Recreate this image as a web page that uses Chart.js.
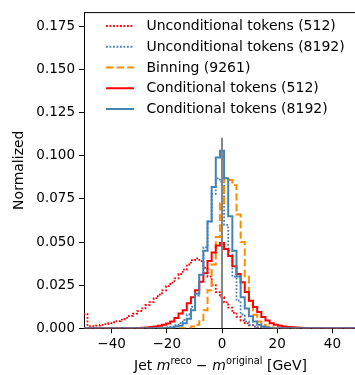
<!DOCTYPE html>
<html>
<head>
<meta charset="utf-8">
<script src="https://cdn.jsdelivr.net/npm/chart.js@4.4.1/dist/chart.umd.min.js"></script>
<style>
  html, body { margin: 0; padding: 0; background: #fff; overflow: hidden; }
  #wrap { position: relative; width: 365px; height: 375px; }
</style>
</head>
<body>
<div id="wrap"><canvas id="histChart"></canvas></div>
<script>
// histogram bins: 67 bins of 1.5 GeV, centred on 0
const binWidth = 1.5;
const binEdges = Array.from({ length: 68 }, (_, k) => -50.25 + binWidth * k);

const xTickValues = [-40, -20, 0, 20, 40];
const yTickValues = [0, 0.025, 0.05, 0.075, 0.1, 0.125, 0.15, 0.175];

// bin contents, left to right (bins -49.5 ... 49.5)
const uncond512 = [
    0.0082, 0.0013, 0.0013, 0.0016, 0.0020, 0.0024, 0.0030, 0.0035, 0.0042, 0.0050,
    0.0060, 0.0072, 0.0085, 0.0100, 0.0115, 0.0135, 0.0152, 0.0175, 0.0195, 0.0220,
    0.0245, 0.0265, 0.0290, 0.0315, 0.0340, 0.0370, 0.0395, 0.0405, 0.0390, 0.0350,
    0.0300, 0.0250, 0.0210, 0.0180, 0.0150, 0.0120, 0.0090, 0.0067, 0.0045, 0.0028,
    0.0017, 0.0010, 0.0005, 0.0002, 0, 0, 0, 0, 0, 0,
    0, 0, 0, 0, 0, 0, 0, 0, 0, 0,
    0, 0, 0, 0, 0, 0, 0
];
const uncond8192 = [
    0, 0, 0, 0, 0, 0, 0, 0, 0, 0,
    0, 0, 0, 0, 0, 0, 0, 0, 0, 0,
    0.0005, 0.0010, 0.0018, 0.0030, 0.0048, 0.0080, 0.0125, 0.0190, 0.0310, 0.0470,
    0.0620, 0.0780, 0.0870, 0.0850, 0.0600, 0.0450, 0.0300, 0.0160, 0.0080, 0.0040,
    0.0020, 0.0010, 0.0005, 0, 0, 0, 0, 0, 0, 0,
    0, 0, 0, 0, 0, 0, 0, 0, 0, 0,
    0, 0, 0, 0, 0, 0, 0
];
const binning9261 = [
    0, 0, 0, 0, 0, 0, 0, 0, 0, 0,
    0, 0, 0, 0, 0, 0, 0, 0, 0, 0,
    0, 0, 0, 0, 0, 0, 0.0010, 0.0020, 0.0048, 0.0105,
    0.0220, 0.0370, 0.0530, 0.0725, 0.0870, 0.0860, 0.0830, 0.0660, 0.0500, 0.0300,
    0.0160, 0.0078, 0.0040, 0.0020, 0.0010, 0.0005, 0, 0, 0, 0,
    0, 0, 0, 0, 0, 0, 0, 0, 0, 0,
    0, 0, 0, 0, 0, 0, 0
];
const cond512 = [
    0, 0, 0, 0, 0, 0, 0, 0, 0, 0,
    0, 0, 0, 0.0002, 0.0003, 0.0005, 0.0007, 0.0010, 0.0015, 0.0020,
    0.0028, 0.0040, 0.0060, 0.0086, 0.0105, 0.0145, 0.0180, 0.0220, 0.0270, 0.0320,
    0.0390, 0.0440, 0.0480, 0.0495, 0.0460, 0.0420, 0.0360, 0.0315, 0.0267, 0.0210,
    0.0160, 0.0124, 0.0095, 0.0066, 0.0045, 0.0030, 0.0020, 0.0015, 0.0010, 0.0008,
    0.0006, 0.0004, 0.0003, 0.0002, 0, 0, 0, 0, 0, 0,
    0, 0, 0, 0, 0, 0, 0
];
const cond8192 = [
    0, 0, 0, 0, 0, 0, 0, 0, 0, 0,
    0, 0, 0, 0, 0, 0, 0, 0, 0, 0,
    0.0003, 0.0005, 0.0010, 0.0015, 0.0030, 0.0055, 0.0105, 0.0200, 0.0310, 0.0450,
    0.0620, 0.0820, 0.0990, 0.1030, 0.0870, 0.0650, 0.0450, 0.0300, 0.0180, 0.0115,
    0.0070, 0.0040, 0.0020, 0.0010, 0.0005, 0, 0, 0, 0, 0,
    0, 0, 0, 0, 0, 0, 0, 0, 0, 0,
    0, 0, 0, 0, 0, 0, 0
];

// vertical reference line at zero
const refLineX = 0;
const refLineTop = 0.1105;

const FONT = 'DejaVu Sans';
const RED = '#ff0000';
const BLUE = '#4682b4';
const ORANGE = '#ff8c00';
const DOT = [1.8, 1.7];
const DASH = [7.4, 3.2];

function histPoints(values) {
    const pts = [{ x: binEdges[0], y: 0 }];
    values.forEach((v, i) => pts.push({ x: binEdges[i], y: v }));
    pts.push({ x: binEdges[binEdges.length - 1], y: values[values.length - 1] });
    pts.push({ x: binEdges[binEdges.length - 1], y: 0 });
    return pts;
}

function stepSet(label, values, color, width, dash) {
    return {
        label: label,
        data: histPoints(values),
        borderColor: color,
        borderWidth: width,
        borderDash: dash,
        borderCapStyle: 'butt',
        stepped: 'before',
        pointRadius: 0,
        fill: false
    };
}

// legend in plotting order (matplotlib style, no frame)
const legendItems = [
    { text: 'Unconditional tokens (512)', color: RED, width: 1.8, dash: DOT },
    { text: 'Unconditional tokens (8192)', color: BLUE, width: 1.8, dash: DOT },
    { text: 'Binning (9261)', color: ORANGE, width: 2, dash: DASH },
    { text: 'Conditional tokens (512)', color: RED, width: 2, dash: [] },
    { text: 'Conditional tokens (8192)', color: BLUE, width: 2, dash: [] }
];

const decorations = {
    id: 'decorations',
    afterDatasetsDraw(chart) {
        const { ctx, chartArea } = chart;
        ctx.save();
        // top spine
        ctx.strokeStyle = '#000';
        ctx.lineWidth = 1;
        ctx.beginPath();
        ctx.moveTo(chartArea.left, chartArea.top + 0.5);
        ctx.lineTo(chartArea.right, chartArea.top + 0.5);
        ctx.stroke();

        // legend
        ctx.font = '14px "' + FONT + '"';
        ctx.textBaseline = 'middle';
        ctx.textAlign = 'left';
        legendItems.forEach((item, i) => {
            const y = 26 + i * 20.75;
            ctx.strokeStyle = item.color;
            ctx.lineWidth = item.width;
            ctx.setLineDash(item.dash);
            ctx.lineCap = 'butt';
            ctx.beginPath();
            ctx.moveTo(106, y);
            ctx.lineTo(134, y);
            ctx.stroke();
            ctx.setLineDash([]);
            ctx.fillStyle = '#000';
            ctx.fillText(item.text, 146.5, y + 0.5);
        });

        // y axis title
        ctx.save();
        ctx.translate(19, (chartArea.top + chartArea.bottom) / 2);
        ctx.rotate(-Math.PI / 2);
        ctx.textAlign = 'center';
        ctx.fillText('Normalized', 0, 0);
        ctx.restore();

        // x axis title with italic m and superscripts
        const runs = [
            { t: 'Jet ', f: '14px "' + FONT + '"', dy: 0 },
            { t: 'm', f: 'italic 14px "' + FONT + '"', dy: 0 },
            { t: 'reco', f: '9.8px "' + FONT + '"', dy: -5.8 },
            { t: ' \u2212 ', f: '14px "' + FONT + '"', dy: 0 },
            { t: 'm', f: 'italic 14px "' + FONT + '"', dy: 0 },
            { t: 'original', f: '9.8px "' + FONT + '"', dy: -5.8 },
            { t: ' [GeV]', f: '14px "' + FONT + '"', dy: 0 }
        ];
        let total = 0;
        runs.forEach(r => { ctx.font = r.f; r.w = ctx.measureText(r.t).width; total += r.w; });
        let x = 220.5 - total / 2;
        ctx.textBaseline = 'alphabetic';
        runs.forEach(r => {
            ctx.font = r.f;
            ctx.fillText(r.t, x, 370 + r.dy);
            x += r.w;
        });
        ctx.restore();
    }
};

const ctx = document.getElementById('histChart').getContext('2d');
new Chart(ctx, {
    type: 'line',
    data: {
        datasets: [
            {
                label: 'zero',
                data: [{ x: refLineX, y: 0 }, { x: refLineX, y: refLineTop }],
                borderColor: 'rgba(128,128,128,0.95)',
                borderWidth: 2,
                pointRadius: 0,
                fill: false
            },
            stepSet('Conditional tokens (8192)', cond8192, BLUE, 2, []),
            stepSet('Conditional tokens (512)', cond512, RED, 2, []),
            stepSet('Binning (9261)', binning9261, ORANGE, 2, DASH),
            stepSet('Unconditional tokens (8192)', uncond8192, BLUE, 1.8, DOT),
            stepSet('Unconditional tokens (512)', uncond512, RED, 1.8, DOT)
        ]
    },
    options: {
        responsive: true,
        maintainAspectRatio: false,
        animation: false,
        layout: { padding: { top: 8, right: 5, left: 0, bottom: 0 } },
        plugins: {
            legend: { display: false },
            tooltip: { enabled: false }
        },
        scales: {
            x: {
                type: 'linear',
                min: -50,
                max: 50,
                afterBuildTicks: (scale) => { scale.ticks = xTickValues.map(v => ({ value: v })); },
                afterFit: (scale) => { scale.height = 46.7; },
                ticks: {
                    color: '#000',
                    font: { family: FONT, size: 13.5 },
                    padding: 3,
                    maxRotation: 0,
                    callback: (v) => String(v).replace('-', '\u2212')
                },
                grid: { drawOnChartArea: false, drawTicks: true, tickLength: 5, color: '#000', lineWidth: 1 },
                border: { display: true, color: '#000', width: 1 }
            },
            y: {
                min: 0,
                max: 0.1834,
                afterBuildTicks: (scale) => { scale.ticks = yTickValues.map(v => ({ value: v })); },
                afterFit: (scale) => { scale.width = 84; },
                ticks: {
                    color: '#000',
                    font: { family: FONT, size: 13.5 },
                    padding: 4,
                    callback: (v) => v.toFixed(3)
                },
                grid: { drawOnChartArea: false, drawTicks: true, tickLength: 5, color: '#000', lineWidth: 1 },
                border: { display: true, color: '#000', width: 1 }
            }
        }
    },
    plugins: [decorations]
});
</script>
</body>
</html>
